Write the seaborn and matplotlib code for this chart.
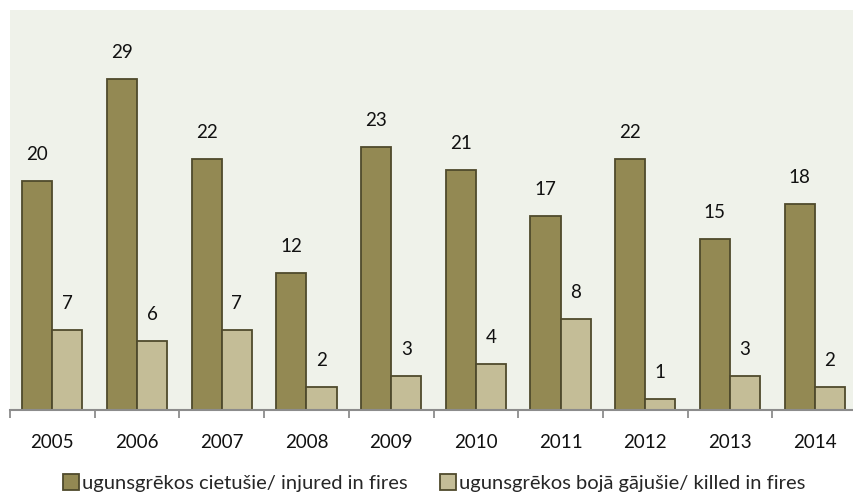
import pandas as pd
import matplotlib.pyplot as plt
import seaborn as sns

years = ['2005', '2006', '2007', '2008', '2009', '2010', '2011', '2012', '2013', '2014']
injured = [20, 29, 22, 12, 23, 21, 17, 22, 15, 18]
killed = [7, 6, 7, 2, 3, 4, 8, 1, 3, 2]
series = ['ugunsgrēkos cietušie/ injured in fires', 'ugunsgrēkos bojā gājušie/ killed in fires']

df = pd.DataFrame({
    'year': years * 2,
    'value': injured + killed,
    'series': [series[0]] * len(years) + [series[1]] * len(years),
})

sns.set_style('white')
plt.rcParams['font.family'] = ['Lato', 'DejaVu Sans']

fig = plt.figure(figsize=(8.54, 4.94), dpi=100)
ax = fig.add_axes([10 / 854, 84 / 494, 847 / 854, 400 / 494])
ax.set_facecolor('#EFF2EA')

sns.barplot(data=df, x='year', y='value', hue='series', palette=['#938953', '#C4BD97'],
            saturation=1, width=0.71, gap=0, edgecolor='#4F4A2C', linewidth=1.3, ax=ax)

for c in ax.containers:
    ax.bar_label(c, padding=13, fontsize=13.5, color='#111111')

ax.set_ylim(0, 35)
ax.set_xlim(-0.5, 9.5)
ax.set_xlabel('')
ax.set_ylabel('')
ax.set_yticks([])
ax.tick_params(axis='x', which='major', length=0, pad=17, labelsize=13.5, labelcolor='#111111')
ax.set_xticks([i - 0.5 for i in range(11)], minor=True)
ax.tick_params(axis='x', which='minor', bottom=True, length=6, width=1.3, color='#8C8C8C')
for s in ['top', 'left', 'right']:
    ax.spines[s].set_visible(False)
ax.spines['bottom'].set_color('#8C8C8C')
ax.spines['bottom'].set_linewidth(1.5)

h, l = ax.get_legend_handles_labels()
ax.get_legend().remove()
fig.legend(h, l, loc='center', bbox_to_anchor=(434 / 854, 1 - 483 / 494), ncol=2,
           frameon=False, fontsize=14.5, handlelength=0.8, handleheight=0.8,
           handletextpad=0.15, columnspacing=1.6, borderaxespad=0, borderpad=0)

fig.savefig('out.png', dpi=100)
